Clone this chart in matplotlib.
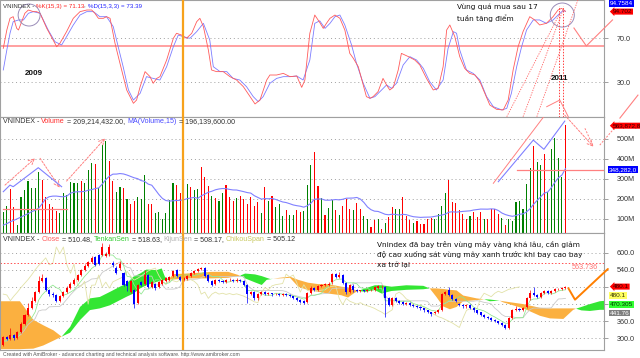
import numpy as np
import pandas as pd
import matplotlib
matplotlib.use('Agg')
import matplotlib.pyplot as plt
from matplotlib.patches import Ellipse

plt.rcParams['font.family'] = ['Liberation Sans', 'DejaVu Sans']

# ---------------- data ----------------
vol_m = [135,163,248,160,68,208,243,290,255,255,335,293,207,173,160,138,130,228,218,285,
         280,277,290,278,343,380,372,255,468,490,390,288,232,258,255,198,175,188,210,197,
         318,172,172,127,135,97,127,193,277,268,227,210,272,260,243,247,
         357,307,262,213,205,188,228,268,208,188,205,212,198,173,208,162,182,128,258,188,
         213,157,173,112,142,120,118,143,132,138,270,368,432,265,203,118,153,192,143,118,
         163,198,150,142,178,147,115,97,58,93,98,50,80,108,158,
         148,148,208,115,93,80,88,73,72,98,105,97,125,163,228,292,185,177,143,122,
         98,113,132,108,133,98,98,147,148,123,103,68,98,90,182,190,147,275,355,463,
         385,368,423,232,448,502,405,310,568]
vol_up = [1,1,0,0,1,1,1,1,1,1,1,0,0,0,0,0,1,1,1,1,1,1,0,1,1,1,0,1,1,1,0,0,1,1,0,1,0,0,1,1,
          1,0,0,1,1,1,1,1,1,0,0,1,1,0,1,1,
          0,0,0,1,0,1,1,0,0,0,1,0,0,0,0,0,0,1,0,1,0,1,1,1,0,1,1,0,0,1,1,1,0,0,1,0,1,1,0,1,
          0,0,0,1,0,0,1,1,0,0,1,0,1,0,0,
          1,1,0,0,0,1,0,0,0,0,0,1,1,1,1,0,0,0,0,0,0,1,0,0,0,1,0,0,0,0,1,0,1,1,1,1,1,1,1,0,
          1,1,0,1,1,1,1,1,0]
ma_head = [68,75,85,92,100,108,117,125,135,142,152,175,200,210]

opens = [276,305,298,312,300,322,352,382,408,432,462,500,510,470,455,452,432,448,462,478,
         492,506,522,540,555,568,585,592,592,588,594,565,548,545,528,500,464,470,423,498,
         492,522,480,490,480,492,500,506,520,540,514,504,508,518,528,536,542,545,522,500,
         490,505,502,498,504,506,502,506,500,488,455,462,440,455,462,455,458,455,457,453,
         456,452,448,442,435,432,428,460,478,470,484,486,488,496,525,515,522,495,462,485,
         468,465,468,466,469,470,478,482,480,440,418,442,430,428,420,425,418,414,410,405,
         398,392,388,392,400,455,468,452,438,422,416,412,416,408,398,392,383,376,372,366,
         360,354,346,338,372,400,404,400,410,440,458,452,446,458,466,460,466,472,474,476]
closes = [305,298,312,300,322,352,382,408,432,462,500,512,470,455,452,432,448,462,478,492,
          506,522,540,555,568,582,558,562,620,596,620,557,528,560,486,482,500,420,486,487,
          522,480,497,476,498,504,510,516,535,518,504,510.48,518,528,536,542,546,520,500,488,
          505,502,498,504,506,502,506,500,488,455,462,440,455,462,455,458,454,457,453,456,
          452,448,442,435,428,425,460,478,470,484,488,490,492,525,515,522,495,462,488,468,
          465,468,466,469,470,480,482,484,440,418,440,430,425,420,425,418,414,410,405,398,
          392,384,392,400,455,462,452,438,432,416,412,418,408,398,390,383,376,372,366,360,
          354,346,338,370,398,404,400,405,440,458,452,446,458,465,460,466,472,474,478,480.1]
highs = [310,310,338,316,326,356,386,425,445,466,520,527,516,474,462,456,452,466,482,496,
         510,526,544,560,572,588,590,596,633,602,631,570,552,570,532,505,505,474,490,502,
         540,526,502,494,502,508,514,520,540,544,518,514,522,532,540,546,550,549,526,504,
         509,508,505,508,510,509,510,509,503,490,466,465,459,466,465,461,460,460,460,459,
         459,455,450,445,438,435,464,482,481,488,492,494,496,530,528,532,525,498,492,490,
         472,471,471,472,474,484,486,488,484,444,444,446,434,430,428,428,421,417,413,408,
         401,394,395,404,458,466,480,456,442,425,419,421,420,410,400,394,385,378,374,368,
         362,356,349,374,402,412,408,409,444,470,480,455,461,469,468,470,475,478,481,484]
lows = [272,294,295,296,297,318,348,378,404,428,458,496,466,450,446,428,429,444,458,474,
        488,502,518,536,551,564,552,558,588,584,590,550,524,540,482,465,460,405,419,483,
        488,476,476,470,476,488,496,502,516,514,500,500,504,514,524,532,538,516,496,484,
        486,499,494,495,501,499,499,497,485,425,451,436,436,451,451,452,450,451,449,450,
        448,444,438,431,424,420,424,456,466,466,480,482,484,492,511,511,491,457,458,464,
        461,462,462,462,465,466,474,478,375,414,414,426,421,416,416,414,410,406,401,394,
        388,380,384,388,396,451,448,434,428,412,408,408,404,394,386,379,372,368,362,356,
        350,342,332,334,368,396,396,396,406,436,448,440,442,454,456,456,462,468,470,472]

k_x = [0,1.0,1.9,2.8,3.8,4.3,5.2,6.1,7.1,8.5,9.4,10.4,12.3,14.1,15.1,16.0,17.9,19.8,21.7,23.6,
       25.0,25.9,26.9,28.3,29.2,30.2,31.6,33.0,34.9,36.8,37.7,38.7,40.1,41.5,42.4,43.4,44.3,46.2,48.1,49.0,
       50.4,51.8,53.3,54.7,55.6,56.6,58.0,58.9,60.3,62.2,64.1,66.0,67.9,69.8,71.2,72.6,74.5,75.4,77.3,79.2,
       81.1,83.0,84.4,85.3,86.7,88.1,89.5,
       90.5,91.4,92.4,93.8,95.2,96.6,98.0,99.0,100.4,101.3,102.7,103.7,104.6,106.0,107.4,108.4,109.3,110.3,111.7,112.6,
       114.6,116.4,117.8,119.7,121.6,123.0,124.4,125.4,126.3,127.7,129.1,130.5,131.9,133.4,134.8,136.2,137.6,139.5,141.4,142.8,
       144.2,145.6,147.0,148.9,150.3,151.7,153.6,155.5,156.9,157.9,159.0]
k_v = [60.8,77.6,88.3,89.8,79.1,77.6,85.2,92.9,95.9,94.4,94.4,92.9,79.1,68.4,62.3,65.4,76.1,88.3,94.4,95.9,
       95.9,92.9,88.3,88.3,89.8,88.3,65.4,47.1,22.7,10.5,13.5,25.7,39.5,34.9,28.8,33.3,34.9,50.1,70.0,74.6,
       73.0,70.0,74.6,85.2,88.3,80.7,59.3,41.0,39.5,39.5,34.9,31.8,25.7,16.6,9.9,13.5,31.8,36.4,36.4,37.9,
       34.9,35.5,25.1,31.8,74.6,91.3,84.5,
       79.1,83.7,88.3,91.3,88.3,77.6,56.2,51.7,44.0,33.3,16.6,15.1,16.6,21.2,33.3,27.3,22.7,25.1,41.0,56.2,
       53.2,50.1,45.6,33.3,22.7,24.2,44.0,77.6,82.2,71.5,53.2,42.5,37.9,36.4,30.3,19.6,9.0,5.0,4.4,13.5,
       41.0,62.3,76.1,89.8,86.8,82.2,83.7,89.8,95.9,97.4,94.7]
d_x = [0,1.0,1.9,2.8,4.3,5.7,7.1,8.5,10.4,12.7,14.6,16.5,17.9,19.8,21.7,23.6,25.5,27.3,29.2,31.1,
       32.5,33.9,35.4,36.8,38.7,40.5,42.4,44.3,46.2,48.1,49.5,50.9,52.8,54.7,56.6,58.4,59.4,61.3,63.2,65.0,
       66.9,68.8,70.7,72.1,73.5,75.4,77.3,79.2,81.1,83.0,84.8,86.7,88.1,89.5,
       91.0,92.4,93.8,95.2,96.6,98.5,99.9,101.8,103.7,105.1,107.0,108.4,109.8,111.2,113.1,115.0,116.9,118.8,120.6,122.5,
       124.4,125.8,127.3,128.2,129.1,131.0,132.9,134.8,136.7,138.6,141.0,142.4,143.7,145.2,146.6,148.0,149.9,151.7,153.6,155.5,
       156.9,158.3,159.0]
d_v = [41.0,59.3,74.6,85.2,86.8,86.8,92.9,94.4,92.9,77.6,66.9,63.9,71.5,82.2,91.3,94.4,94.4,89.8,89.8,80.7,
       62.3,44.0,22.7,13.5,19.6,34.9,33.3,31.8,44.0,62.3,73.0,71.5,70.0,76.1,83.7,68.4,44.0,39.5,39.5,33.3,
       31.8,25.7,16.6,12.0,16.6,28.8,33.3,34.9,34.9,35.5,31.8,50.1,83.7,86.0,
       79.1,83.7,89.8,91.3,82.2,63.9,47.1,28.8,15.1,16.6,22.7,27.3,24.2,28.8,45.6,53.2,50.1,42.5,30.3,22.7,
       31.8,60.8,76.1,74.6,59.3,41.0,37.9,31.8,16.6,7.4,4.4,5.9,19.6,44.0,62.3,77.6,86.8,86.8,83.7,86.8,
       91.3,95.3,94.76]

cloud_x = [-1,4.7,6.2,8.5,11.3,14.2,16.5,18.9,21.7,24.5,27.3,30.2,33.0,34.9,36.8,38.7,40.5,43.4,44.8,45.7,
           46.7,48.1,51.8,55.6,58.9,63.6,67.0,68.4,71.2,73.1,74.5,75.5,78.0,81.1,83.4,86.2,89.1,91.9,95.6,97.5,
           99.4,100.4,102.3,105.1,107.0,109.8,114.0,118.8,120.6,122.5,124.4,126.3,128.2,130.1,133.9,136.0,137.6,140.4,141.4,147.1,
           151.8,154.6,158.4,161.2,162.0,163.5,165.9,168.7,170.5]
span_a = [262,262,263,264,275,292,306,340,410,440,445,463,481,492,516,527,541,539,545,516,
          506,506,510,510,510,512,520,527,524,518,512,508,510,512,481,469,463,457,451,443,
          460,466,475,486,486,481,486,484,475,445,412,402,410,430,434,437,436,432,426,405,
          379,370,368,400,404,410,420,430,432]
span_b = [430,430,405,365,346,328,306,320,364,399,405,416,434,446,457,475,486,498,502,504,
          506,525,527,530,533,533,520,510,496,487,505,507,512,516,505,495,490,490,481,478,
          470,466,463,469,457,466,470,472,475,475,473,470,468,450,440,437,430,432,430,420,
          407,405,405,405,404,398,396,400,400]

cursor_bar = 50.9
resistance = 563.736
stoch_level = 63
# ---------------------------------------------------------------

W, H = 640, 358
fig = plt.figure(figsize=(W / 100, H / 100), dpi=100)
fig.patch.set_facecolor('white')
R = 604 / W


def band(y0, y1):
    return [0.0, 1 - y1 / H, R, (y1 - y0) / H]


axK = fig.add_axes(band(0, 116.7))
axV = fig.add_axes(band(116.7, 233.3))
axP = fig.add_axes(band(233.3, 349.5))
XL = (-0.93, 169.9)
for ax in (axK, axV, axP):
    ax.set_xlim(*XL)
    ax.set_xticks([])
    ax.yaxis.tick_right()
    ax.tick_params(axis='y', length=3, width=0.6, color='#909090', pad=6,
                   labelsize=5.2, labelcolor='#333333')
    for s in ax.spines.values():
        s.set_color('#a0a0a0')
        s.set_linewidth(0.8)
    ax.grid(axis='y', ls=(0, (1, 3)), color='#a0a0a0', lw=0.7)
    ax.set_axisbelow(True)
    ax.axvline(cursor_bar, color='#f7a21b', lw=1.6, zorder=6)

idx = np.arange(len(closes))

# ---------- stochastic panel ----------
axK.set_ylim(-1.76, 105.06)
axK.set_yticks([30, 70])
axK.set_yticklabels(['30.0', '70.0'])
axK.axhline(stoch_level, color='#ff9090', lw=1.2, zorder=2)
axK.plot(d_x, d_v, color='#7c7cff', lw=0.6, zorder=3)
axK.plot(k_x, k_v, color='#ff5a5a', lw=0.6, zorder=3)

# ---------- volume panel ----------
vol = np.array(vol_m, dtype=float)
vcol = ['#008000' if u else '#ff0000' for u in vol_up]
axV.bar(idx, vol, width=0.32, color=vcol, lw=0, zorder=2)
ma = pd.Series(vol).rolling(15).mean().to_numpy()
ma[:len(ma_head)] = ma_head
axV.plot(idx, ma, color='#8080ff', lw=0.8, zorder=3)
axV.set_ylim(27, 610)
vt = [100, 200, 300, 400, 500]
axV.set_yticks(vt)
axV.set_yticklabels([f'{v}M' for v in vt])

# ---------- price panel ----------
axP.set_ylim(261, 668)
pt = [300, 360, 420, 480, 540, 600]
axP.set_yticks(pt)
# 420 and 480 labels sit under the value boxes in the reference
axP.set_yticklabels(['' if v in (420, 480) else f'{v:.1f}' for v in pt])
cx = np.array(cloud_x)
sa = np.array(span_a, dtype=float)
sb = np.array(span_b, dtype=float)
axP.fill_between(cx, sa, sb, where=sa >= sb, interpolate=True, color='#33e633', lw=0, zorder=1)
axP.fill_between(cx, sa, sb, where=sa < sb, interpolate=True, color='#fbb040', lw=0, zorder=1)
hs = pd.Series(highs, dtype=float)
ls_ = pd.Series(lows, dtype=float)
tenkan = (hs.rolling(5, min_periods=1).max() + ls_.rolling(5, min_periods=1).min()) / 2
kijun = (hs.rolling(13, min_periods=1).max() + ls_.rolling(13, min_periods=1).min()) / 2
axP.plot(idx, kijun, color='#cacaca', lw=0.6, zorder=2)
axP.plot(idx[:-13], closes[13:], color='#e2e2a8', lw=0.6, zorder=2)
axP.plot(idx, tenkan, color='#8ee88e', lw=0.55, zorder=2)
o = np.array(opens, dtype=float)
c = np.array(closes, dtype=float)
ccol = np.where(c >= o, '#ff0000', '#0000ff')
axP.vlines(idx, lows, highs, colors=ccol, lw=0.5, zorder=3)
axP.bar(idx, np.maximum(np.abs(c - o), 1.2), bottom=np.minimum(o, c), width=0.58,
        color=ccol, lw=0, zorder=4)
axP.axhline(resistance, color='#ff5050', lw=0.7, ls=(0, (1.5, 2)), zorder=2)
axP.text(168.3, resistance - 3, f'{resistance:.3f}', color='#ff7070', fontsize=5.2,
         ha='right', va='top', zorder=7)

# ---------- hand-drawn annotations ----------
pink = '#ff8080'
axK.add_patch(Ellipse((7.3, 91.3), 6.2, 20.1, fill=False, ec='#9a8cb8', lw=0.7, zorder=5))
axK.add_patch(Ellipse((158.1, 91.3), 6.8, 22, fill=False, ec='#9a8cb8', lw=0.7, zorder=5))
for xv in (157.2, 158.4):
    axK.plot([xv, xv], [-2, 100], color='#ff4040', lw=0.7, ls=(0, (1.5, 1.5)), zorder=5)
for (x0, x1, y1) in ((142.4, 157.4, 92.9), (147.0, 158.3, 95.9), (150.9, 162.5, 105)):
    axK.plot([x0, x1], [-1.8, y1], color='#ff6060', lw=0.6, ls=(0, (1.5, 1.5)), zorder=5)
axK.plot([161.4, 164.9, 172.3], [79.4, 63, 86.8], color=pink, lw=0.8, clip_on=False, zorder=5)
axK.plot([174.4, 179.5], [-3, 18], color=pink, lw=0.8, clip_on=False, zorder=5)
axK.plot([153.7, 157.4, 159.8], [7.4, 13.5, -1.8], color=pink, lw=0.7, zorder=5)

arr = dict(arrowstyle='->', color=pink, lw=0.7, ls=(0, (2, 1.5)), shrinkA=0, shrinkB=0)
for (x0, y0, x1, y1) in ((0.48, 268, 8.97, 402), (10.4, 402, 16.0, 255), (17.9, 288, 28.8, 502)):
    axV.annotate('', xy=(x1, y1), xytext=(x0, y0), arrowprops=arr, zorder=5)
axV.plot([0, 1.9, 2.8, 9.9, 16.5], [235, 268, 260, 355, 260], color='#8080ff', lw=0.8, zorder=5)
axV.plot([-0.1, 18], [147, 147], color=pink, lw=0.9, zorder=5)
axV.plot([138.6, 153.2], [277, 618], color=pink, lw=0.7, zorder=5)
axV.plot([140, 149.9, 152.9, 158.8], [285, 493, 447, 588], color='#8080ff', lw=0.8, zorder=5)
axV.annotate('', xy=(166.9, 460), xytext=(158.8, 618), arrowprops=arr, zorder=5)
axV.plot([164.5, 166.9], [552, 460], color=pink, lw=0.7, ls=(0, (2, 1.5)), zorder=5)
axV.plot([168.7, 174.4], [468, 585], color=pink, lw=0.7, ls=(0, (2, 1.5)), clip_on=False, zorder=5)
axV.plot([145.3, 169.9], [342, 342], color=pink, lw=0.9, zorder=5)
axP.plot([159.8, 161.7, 171], [476, 435.5, 543], color='#ff7f00', lw=1.4,
         clip_on=False, zorder=6, solid_capstyle='round')

# ---------- texts ----------
rend = fig.canvas.get_renderer()


def ctext(x, y, parts, size):
    for s, col in parts:
        t = fig.text(x / W, 1 - y / H, s, color=col, fontsize=size, va='center', ha='left',
                     family=['Liberation Sans', 'DejaVu Sans'])
        x += t.get_window_extent(rend).width


dk = '#333333'
ctext(3, 6.2, [('VNINDEX - ', dk), ('%K(15,3) = 71.13', '#ff2020'), (', ', dk),
               ('%D(15,3,3) = 73.39', '#2020ff')], 4.4)
ctext(3, 121.7, [('VNINDEX - ', dk), ('Volume', '#ff3030'), (' = 209,214,432.00, ', dk),
                 ('MA(Volume,15)', '#4848ff'), (' = 196,139,600.00', dk)], 5.1)
ctext(3, 239.3, [('VNINDEX - ', dk), ('Close', '#ff6060'), (' = 510.48, ', dk),
                 ('TenkanSen', '#33cc33'), (' = 518.63, ', dk), ('KijunSen', '#b0b0b0'),
                 (' = 508.17, ', dk), ('ChikouSpan', '#c8c860'), (' = 505.12', dk)], 5.1)
fig.text(3 / W, 1 - 354.5 / H,
         'Created with AmiBroker - advanced charting and technical analysis software. http://www.amibroker.com',
         fontsize=3.7, color='#555555', va='center', ha='left')

ann = dict(fontsize=5.3, color='#111111', va='center', ha='left', family=['DejaVu Sans'])
fig.text(456.7 / W, 1 - 7 / H, 'Vùng quá mua sau 17', **ann)
fig.text(456.7 / W, 1 - 18.3 / H, 'tuần tăng điểm', **ann)
fig.text(377 / W, 1 - 244 / H, 'Vnindex đã bay trên vùng mây vàng khá lâu, cần giảm', **ann)
fig.text(377 / W, 1 - 254.7 / H, 'độ cao xuống sát vùng mây xanh trước khi bay cao bay', **ann)
fig.text(377 / W, 1 - 264.7 / H, 'xa trở lại', **ann)
fig.text(25 / W, 1 - 73.3 / H, '2009', fontsize=5.8, weight='bold', color='#111111', va='center')
fig.text(551 / W, 1 - 79 / H, '2011', fontsize=5.8, weight='bold', color='#111111', va='center')


def vbox(x, y, s, fc, tc, arrow=False):
    style = 'larrow,pad=0.08' if arrow else 'square,pad=0.1'
    fig.text(x / W, 1 - y / H, s, fontsize=4.6, color=tc, va='center', ha='left', zorder=10,
             bbox=dict(boxstyle=style, fc=fc, ec='none'))


vbox(610, 3.6, '94.7584', '#0000ff', 'white')
vbox(613, 11.6, '94.702', '#ff0000', '#3a0000', arrow=True)
vbox(613, 125.7, '563,872,8', '#ff0000', '#3a0000', arrow=True)
vbox(609, 169.5, '348,282,0', '#0000ff', 'white')
vbox(613, 286.6, '480.1', '#ff0000', '#3a0000', arrow=True)
vbox(610, 295.6, '480.1', '#ffff60', '#333300')
vbox(610, 304.4, '470.305', '#33ff33', '#003300')
vbox(610, 313.3, '441.76', '#808080', 'white')

fig.savefig('out.png', dpi=100, facecolor='white')
